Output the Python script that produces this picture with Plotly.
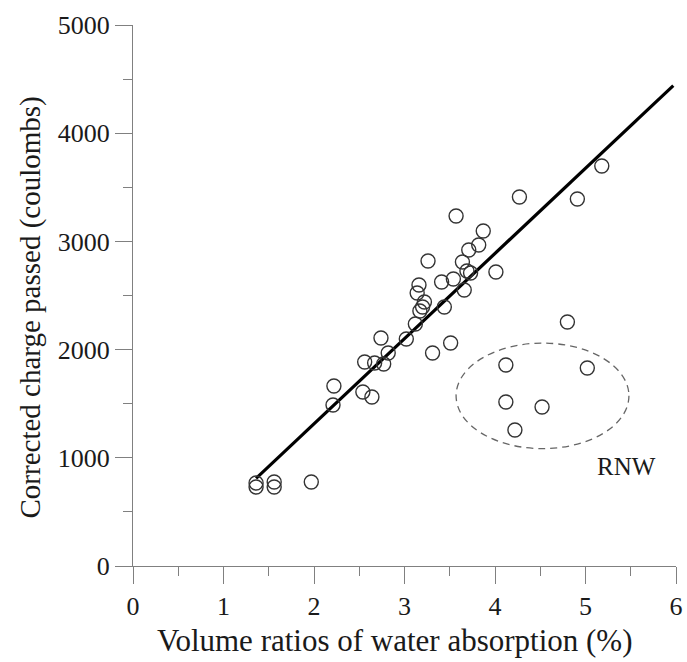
import plotly.graph_objects as go

# Main group (regular concrete)
x_main = [1.36, 1.36, 1.56, 1.56, 1.97, 2.21, 2.22, 2.54, 2.64, 2.56, 2.67, 2.77, 2.74,
          2.82, 3.02, 3.12, 3.17, 3.20, 3.22, 3.14, 3.16, 3.26, 3.31, 3.44, 3.41, 3.51,
          3.54, 3.57, 3.64, 3.66, 3.69, 3.73, 3.71, 3.82, 3.87, 4.01, 4.27, 4.91, 5.18]
y_main = [767, 730, 776, 730, 776, 1488, 1664, 1608, 1562, 1885, 1876, 1867, 2107,
          1969, 2098, 2237, 2357, 2394, 2440, 2523, 2597, 2819, 1969, 2394, 2625, 2061,
          2652, 3235, 2810, 2551, 2726, 2708, 2920, 2967, 3096, 2717, 3410, 3392, 3697]

# RNW group
x_rnw = [4.12, 4.12, 4.22, 4.52, 4.80, 5.02]
y_rnw = [1858, 1516, 1257, 1469, 2255, 1830]

# Regression line
fit_x = [1.36, 5.97]
fit_y = [810, 4440]

# RNW ellipse bounds
ell_x = [3.57, 5.48]
ell_y = [1085, 2060]
rnw_label = "RNW"
rnw_pos = (5.45, 924)

x_ticks = [0, 1, 2, 3, 4, 5, 6]
y_ticks = [0, 1000, 2000, 3000, 4000, 5000]
x_title = "Volume ratios of water absorption (%)"
y_title = "Corrected charge passed (coulombs)"

FONT = "Liberation Serif, Times New Roman, serif"
TXT = "#1a1a1a"
AX = "#808080"
marker = dict(symbol="circle-open", size=14, color="#333333", line=dict(width=1.4, color="#333333"))

W, H = 687, 662
ML, MR, MT, MB = 133, 11, 25, 96

fig = go.Figure()
fig.add_trace(go.Scatter(x=fit_x, y=fit_y, mode="lines",
                         line=dict(color="black", width=3.2), showlegend=False))
fig.add_trace(go.Scatter(x=x_main, y=y_main, mode="markers", marker=marker, showlegend=False))
fig.add_trace(go.Scatter(x=x_rnw, y=y_rnw, mode="markers", marker=marker, showlegend=False))

fig.add_shape(type="circle", xref="x", yref="y",
              x0=ell_x[0], x1=ell_x[1], y0=ell_y[0], y1=ell_y[1],
              line=dict(color="#666666", width=1.3, dash="7px,5px"))
fig.add_annotation(x=rnw_pos[0], y=rnw_pos[1], text=rnw_label, showarrow=False,
                   font=dict(family=FONT, size=25, color=TXT))

# Axis titles as annotations (positioned like the reference)
fig.add_annotation(xref="paper", yref="paper", x=0.5, y=0, xshift=-10, yshift=-74,
                   text=x_title, showarrow=False, xanchor="center", yanchor="middle",
                   font=dict(family=FONT, size=31, color=TXT))
fig.add_annotation(xref="paper", yref="paper", x=0, y=0.5, xshift=-103, yshift=-12,
                   text=y_title, textangle=-90, showarrow=False, xanchor="center", yanchor="middle",
                   font=dict(family=FONT, size=29, color=TXT))

axis_common = dict(showgrid=False, zeroline=False, showline=True, linecolor=AX,
                   linewidth=1.3, ticks="outside", tickcolor=AX, tickwidth=1.3,
                   ticklen=17, tickfont=dict(family=FONT, size=26, color=TXT))

fig.update_xaxes(range=[0, 6], tickvals=x_ticks, ticktext=[str(v) for v in x_ticks],
                 ticklabelstandoff=0,
                 minor=dict(dtick=0.5, ticks="outside", ticklen=9, tickcolor=AX, tickwidth=1.3),
                 **axis_common)
fig.update_yaxes(range=[0, 5000], tickvals=y_ticks, ticktext=[str(v) for v in y_ticks],
                 ticklabelstandoff=0,
                 minor=dict(dtick=500, ticks="outside", ticklen=9, tickcolor=AX, tickwidth=1.3),
                 **axis_common)

fig.update_layout(width=W, height=H, plot_bgcolor="white", paper_bgcolor="white",
                  margin=dict(l=ML, r=MR, t=MT, b=MB, autoexpand=False),
                  font=dict(family=FONT, size=26, color=TXT))

fig.write_html("out.html", config={"displayModeBar": False},
               post_script="document.body.style.margin='0';document.body.style.overflow='hidden';")
